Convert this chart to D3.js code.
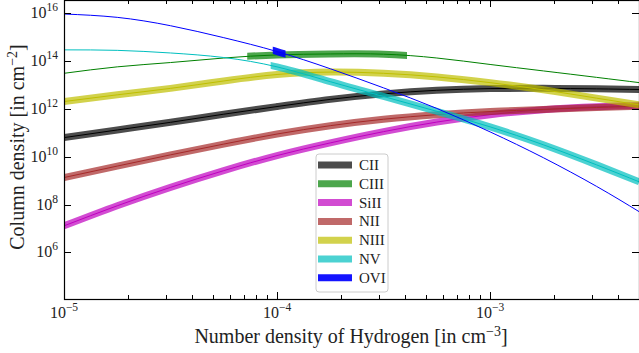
<!DOCTYPE html>
<html>
<head>
<meta charset="utf-8">
<script src="https://cdn.jsdelivr.net/npm/d3@7/dist/d3.min.js"></script>
<style>
  html, body { margin: 0; padding: 0; background: #fff; }
  svg { display: block; font-family: "Liberation Serif", "DejaVu Serif", serif; }
</style>
</head>
<body>
<svg id="chart" width="639" height="353"></svg>
<script>
// Hydrogen number density grid, as log10(n_H / cm^-3)
const logNH = [-5, -4.75, -4.5, -4.25, -4, -3.75, -3.5, -3.25, -3, -2.75, -2.5, -2.3];

// Column densities for each ion, as log10(N / cm^-2), on the grid above
const logCII  = [10.80, 11.12, 11.44, 11.78, 12.10, 12.40, 12.63, 12.78, 12.85, 12.86, 12.84, 12.81];
const logCIII = [13.49, 13.76, 13.94, 14.13, 14.26, 14.30, 14.29, 14.13, 13.86, 13.59, 13.32, 13.10];
const logSiII = [7.11, 7.95, 8.72, 9.42, 10.05, 10.58, 11.05, 11.45, 11.76, 11.97, 12.09, 12.14];
const logNII  = [9.13, 9.61, 10.08, 10.53, 10.95, 11.30, 11.57, 11.76, 11.89, 11.98, 12.06, 12.11];
const logNIII = [12.31, 12.59, 12.86, 13.17, 13.44, 13.54, 13.49, 13.34, 13.10, 12.80, 12.45, 12.17];
const logNV   = [14.47, 14.45, 14.34, 14.15, 13.76, 13.14, 12.52, 11.90, 11.25, 10.50, 9.66, 8.95];
const logOVI  = [15.97, 15.83, 15.48, 14.98, 14.40, 13.68, 12.88, 12.02, 11.04, 9.96, 8.76, 7.70];

// Density range (log10 n_H) over which each ion's model band is drawn
const ions      = ["CII", "CIII", "SiII", "NII", "NIII", "NV", "OVI"];
const ionValues = [logCII, logCIII, logSiII, logNII, logNIII, logNV, logOVI];
const bandRange = [[-5, -2.3], [-4.14, -3.39], [-5, -2.3], [-5, -2.3], [-5, -2.3], [-4.03, -2.3], [-4.02, -3.96]];
const ionColors = ["#000000", "#008000", "#bf00bf", "#a52a2a", "#bfbf00", "#00bfbf", "#0000ff"];
const bandAlpha = [0.7, 0.7, 0.7, 0.7, 0.7, 0.7, 0.92];

// Axis ticks
const xMajor = [1e-5, 1e-4, 1e-3];
const xMajorExp = ["−5", "−4", "−3"];
const yMajor = [1e6, 1e8, 1e10, 1e12, 1e14, 1e16];
const yMajorExp = ["6", "8", "10", "12", "14", "16"];

const svg = d3.select("#chart");
const L = 64, R = 639, T = 0, B = 299;

const x = d3.scaleLog().domain([1e-5, 5e-3]).range([L, R]);
const y = d3.scaleLog().domain([Math.pow(10, 4.05), Math.pow(10, 16.556)]).range([B, T]);

const defs = svg.append("defs");
defs.append("clipPath").attr("id", "plotclip")
  .append("rect").attr("x", L).attr("y", T).attr("width", R - L).attr("height", B - T);

const plot = svg.append("g").attr("clip-path", "url(#plotclip)");

const line = d3.line()
  .x(d => x(Math.pow(10, d[0])))
  .y(d => y(Math.pow(10, d[1])))
  .curve(d3.curveNatural);

ions.forEach((ion, i) => {
  const pts = logNH.map((n, k) => [n, ionValues[i][k]]);
  const r = bandRange[i];
  const cid = "band-" + ion;
  defs.append("clipPath").attr("id", cid)
    .append("rect")
    .attr("x", x(Math.pow(10, r[0])))
    .attr("y", T - 10)
    .attr("width", x(Math.pow(10, r[1])) - x(Math.pow(10, r[0])))
    .attr("height", B - T + 20);
  // thick band over the model's valid range
  plot.append("path")
    .attr("d", line(pts))
    .attr("clip-path", `url(#${cid})`)
    .attr("fill", "none")
    .attr("stroke", ionColors[i])
    .attr("stroke-opacity", bandAlpha[i])
    .attr("stroke-width", 7);
  // thin line over the full density range
  plot.append("path")
    .attr("d", line(pts))
    .attr("fill", "none")
    .attr("stroke", ionColors[i])
    .attr("stroke-width", 1);
});

// Frame
const axes = svg.append("g").attr("stroke", "#000").attr("fill", "none");
axes.append("rect").attr("x", L + 0.5).attr("y", T + 0.5)
  .attr("width", R - L).attr("height", B - T).attr("stroke-width", 1.2);

// Minor x ticks (inward, top and bottom)
const xMinor = [];
[1e-5, 1e-4, 1e-3].forEach(d => { for (let m = 2; m <= 9; m++) { const v = d * m; if (v <= 5e-3) xMinor.push(v); } });
xMinor.forEach(v => {
  const px = Math.round(x(v)) + 0.5;
  axes.append("line").attr("x1", px).attr("x2", px).attr("y1", B).attr("y2", B - 4);
  axes.append("line").attr("x1", px).attr("x2", px).attr("y1", T).attr("y2", T + 4);
});
xMajor.forEach(v => {
  const px = Math.round(x(v)) + 0.5;
  axes.append("line").attr("x1", px).attr("x2", px).attr("y1", B).attr("y2", B - 7);
  axes.append("line").attr("x1", px).attr("x2", px).attr("y1", T).attr("y2", T + 7);
});
yMajor.forEach(v => {
  const py = Math.round(y(v)) + 0.5;
  axes.append("line").attr("x1", L).attr("x2", L + 7).attr("y1", py).attr("y2", py);
  axes.append("line").attr("x1", R).attr("x2", R - 7).attr("y1", py).attr("y2", py);
});

// Tick labels with superscript exponents
const labels = svg.append("g").attr("fill", "#222");
xMajor.forEach((v, i) => {
  const t = labels.append("text").attr("x", x(v)).attr("y", 318)
    .attr("text-anchor", "middle").attr("font-size", 16);
  t.append("tspan").text("10");
  t.append("tspan").attr("dy", -7).attr("font-size", 11.5).text(xMajorExp[i]);
});
yMajor.forEach((v, i) => {
  const t = labels.append("text").attr("x", 58).attr("y", y(v) + 5)
    .attr("text-anchor", "end").attr("font-size", 16);
  t.append("tspan").text("10");
  t.append("tspan").attr("dy", -7).attr("font-size", 11.5).text(yMajorExp[i]);
});

// Axis titles
const xt = labels.append("text").attr("x", 351).attr("y", 343)
  .attr("text-anchor", "middle").attr("font-size", 20);
xt.append("tspan").text("Number density of Hydrogen [in cm");
xt.append("tspan").attr("dy", -7).attr("font-size", 14).text("−3");
xt.append("tspan").attr("dy", 7).text("]");

const yt = labels.append("text")
  .attr("transform", "translate(24,147) rotate(-90)")
  .attr("text-anchor", "middle").attr("font-size", 20);
yt.append("tspan").text("Column density [in cm");
yt.append("tspan").attr("dy", -7).attr("font-size", 14).text("−2");
yt.append("tspan").attr("dy", 7).text("]");

// Legend
const lg = svg.append("g").attr("transform", "translate(316,154)");
lg.append("rect").attr("x", 0).attr("y", 0).attr("width", 72).attr("height", 138)
  .attr("rx", 3).attr("fill", "#fff").attr("fill-opacity", 0.8)
  .attr("stroke", "#ccc").attr("stroke-width", 1);
ions.forEach((ion, i) => {
  const yy = 11 + i * 18.8;
  lg.append("line").attr("x1", 2).attr("x2", 36).attr("y1", yy).attr("y2", yy)
    .attr("stroke", ionColors[i]).attr("stroke-opacity", bandAlpha[i]).attr("stroke-width", 7);
  lg.append("text").attr("x", 43).attr("y", yy + 5).attr("font-size", 15)
    .attr("fill", "#222").text(ion);
});
</script>
</body>
</html>
